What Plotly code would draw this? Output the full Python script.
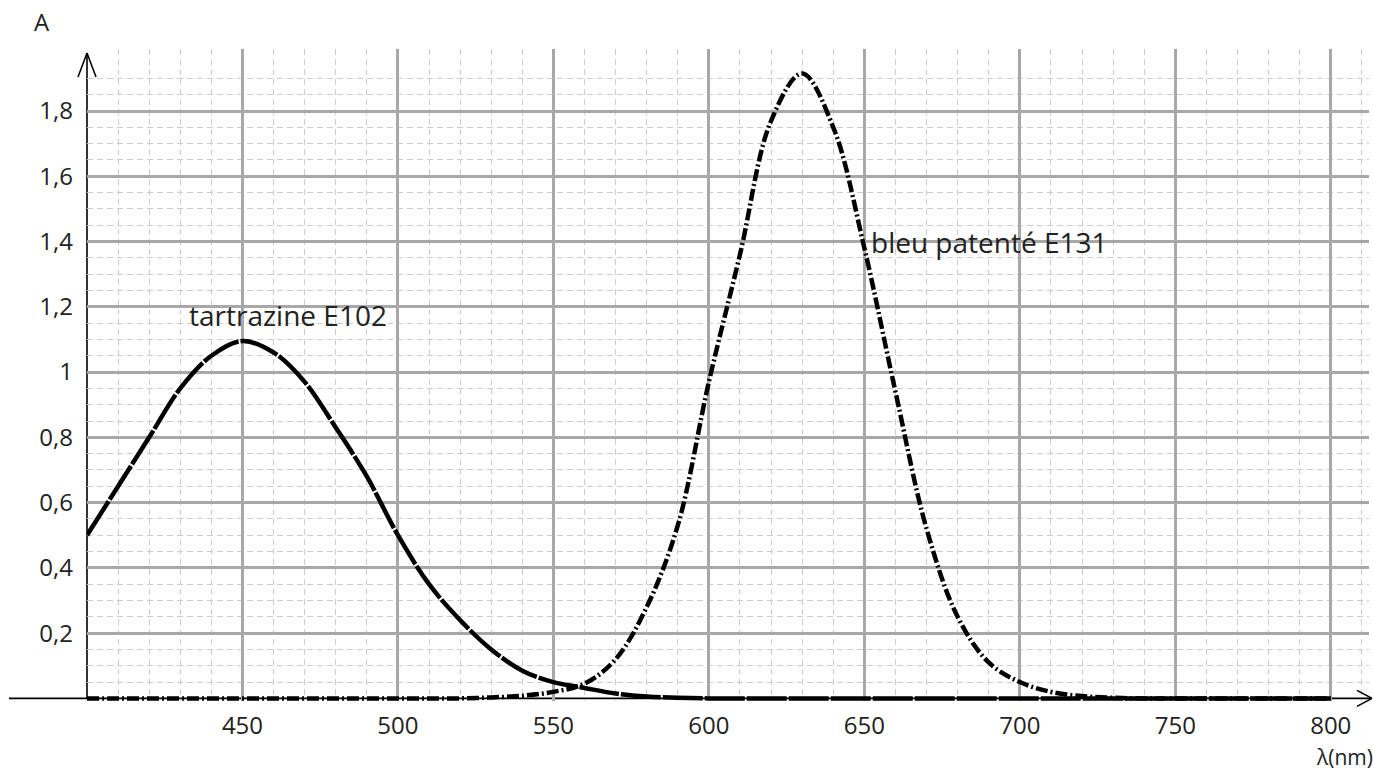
import plotly.graph_objects as go

# ---- data ----
wavelength = [400, 410, 420, 430, 440, 450, 460, 470, 480, 490, 500,
              510, 520, 530, 540, 550, 560, 570, 580, 590, 600,
              610, 620, 630, 640, 650, 660, 670, 680, 690, 700,
              710, 720, 730, 740, 750, 760, 770, 780, 790, 800]

tartrazine = [0.50, 0.65, 0.80, 0.95, 1.05, 1.095, 1.06, 0.97, 0.83, 0.68, 0.50,
              0.35, 0.24, 0.15, 0.085, 0.05, 0.032, 0.015, 0.006, 0.002, 0.0,
              0.0, 0.0, 0.0, 0.0, 0.0, 0.0, 0.0, 0.0, 0.0, 0.0,
              0.0, 0.0, 0.0, 0.0, 0.0, 0.0, 0.0, 0.0, 0.0, 0.0]

bleu_patente = [0.0, 0.0, 0.0, 0.0, 0.0, 0.0, 0.0, 0.0, 0.0, 0.0, 0.0,
                0.0, 0.0, 0.003, 0.008, 0.02, 0.045, 0.12, 0.28, 0.53, 0.97,
                1.36, 1.77, 1.915, 1.75, 1.38, 0.94, 0.52, 0.25, 0.11, 0.05,
                0.02, 0.007, 0.002, 0.0, 0.0, 0.0, 0.0, 0.0, 0.0, 0.0]

x_tick_vals = [450, 500, 550, 600, 650, 700, 750, 800]
x_tick_text = ["450", "500", "550", "600", "650", "700", "750", "800"]
y_tick_vals = [0.2, 0.4, 0.6, 0.8, 1.0, 1.2, 1.4, 1.6, 1.8]
y_tick_text = ["0,2", "0,4", "0,6", "0,8", "1", "1,2", "1,4", "1,6", "1,8"]

label_tartrazine = "tartrazine E102"
label_bleu = "bleu patenté E131"

# ---- layout geometry (pixels) ----
W, H = 1373, 775
Y_LOW = -0.008
PX_PER_UNIT = 326.0
L, R, T = 87, 1369, 49
B = 698 + (-Y_LOW) * PX_PER_UNIT   # y = 0 sits at pixel 698
X_RANGE = [400, 812.3]
Y_RANGE = [Y_LOW, 1.99]

def px(xp):
    return (xp - L) / (R - L)

def py(yp):
    return (B - yp) / (B - T)

FONT = "Open Sans, Noto Sans, sans-serif"
TXT = "#222222"

fig = go.Figure()

fig.add_trace(go.Scatter(
    x=wavelength, y=tartrazine, mode="lines", line_shape="spline",
    line=dict(color="black", width=4.5, dash="40px,2px"),
    name=label_tartrazine, showlegend=False, hoverinfo="x+y"))

fig.add_trace(go.Scatter(
    x=wavelength, y=bleu_patente, mode="lines", line_shape="spline",
    line=dict(color="black", width=4.5, dash="12px,3px,2px,3px"),
    name=label_bleu, showlegend=False, hoverinfo="x+y"))

minor_y = [round(0.05 * i, 2) for i in range(1, 39) if i % 4 != 0]
minor_x = [v for v in range(410, 811, 10) if v % 50 != 0]

fig.update_xaxes(
    range=X_RANGE, showline=False, zeroline=False,
    tickmode="array", tickvals=x_tick_vals, ticktext=x_tick_text,
    ticks="", ticklabelstandoff=8,
    tickfont=dict(family=FONT, size=24, color=TXT),
    showgrid=True, gridcolor="#a8a8a8", gridwidth=2.5,
    minor=dict(tickmode="array", tickvals=minor_x, showgrid=True,
               gridcolor="#cccccc", gridwidth=1.2, griddash="6px,4px", ticks=""),
)
fig.update_yaxes(
    range=Y_RANGE, showline=False, zeroline=False,
    tickmode="array", tickvals=y_tick_vals, ticktext=y_tick_text,
    ticks="", ticklabelstandoff=13,
    tickfont=dict(family=FONT, size=24, color=TXT),
    showgrid=True, gridcolor="#a8a8a8", gridwidth=2.5,
    minor=dict(tickmode="array", tickvals=minor_y, showgrid=True,
               gridcolor="#cccccc", gridwidth=1.2, griddash="6px,4px", ticks=""),
)

line_style = dict(color="black", width=1.6)
shapes = [
    # x axis (extends left of the plot)
    dict(type="line", xref="paper", yref="y", x0=px(9), x1=px(1371), y0=0, y1=0,
         line=line_style, layer="between"),
    # x arrow head
    dict(type="line", xref="paper", yref="paper", x0=px(1357), y0=py(690), x1=px(1372), y1=py(698),
         line=line_style),
    dict(type="line", xref="paper", yref="paper", x0=px(1357), y0=py(706), x1=px(1372), y1=py(698),
         line=line_style),
    # y axis
    dict(type="line", xref="paper", yref="paper", x0=0, x1=0, y0=py(698), y1=py(53),
         line=line_style, layer="between"),
    # y arrow head
    dict(type="line", xref="paper", yref="paper", x0=px(78), y0=py(77), x1=0, y1=py(53),
         line=line_style),
    dict(type="line", xref="paper", yref="paper", x0=px(96), y0=py(77), x1=0, y1=py(53),
         line=line_style),
]

annotations = [
    dict(text=label_tartrazine, x=432, y=1.175, xref="x", yref="y",
         xanchor="left", yanchor="middle", showarrow=False,
         font=dict(family=FONT, size=28, color=TXT)),
    dict(text=label_bleu, x=651.5, y=1.40, xref="x", yref="y",
         xanchor="left", yanchor="middle", showarrow=False,
         font=dict(family=FONT, size=28, color=TXT)),
    dict(text="A", x=px(42), y=py(22), xref="paper", yref="paper",
         xanchor="center", yanchor="middle", showarrow=False,
         font=dict(family=FONT, size=24, color=TXT)),
    dict(text="λ(nm)", x=px(1344), y=py(757), xref="paper", yref="paper",
         xanchor="center", yanchor="middle", showarrow=False,
         font=dict(family=FONT, size=21, color=TXT)),
]

fig.update_layout(
    width=W, height=H,
    margin=dict(l=L, r=W - R, t=T, b=H - B, pad=0),
    paper_bgcolor="white", plot_bgcolor="white",
    shapes=shapes, annotations=annotations,
    showlegend=False,
)

fig.write_html("out.html", config={"displayModeBar": False},
               post_script="document.body.style.margin='0';")
